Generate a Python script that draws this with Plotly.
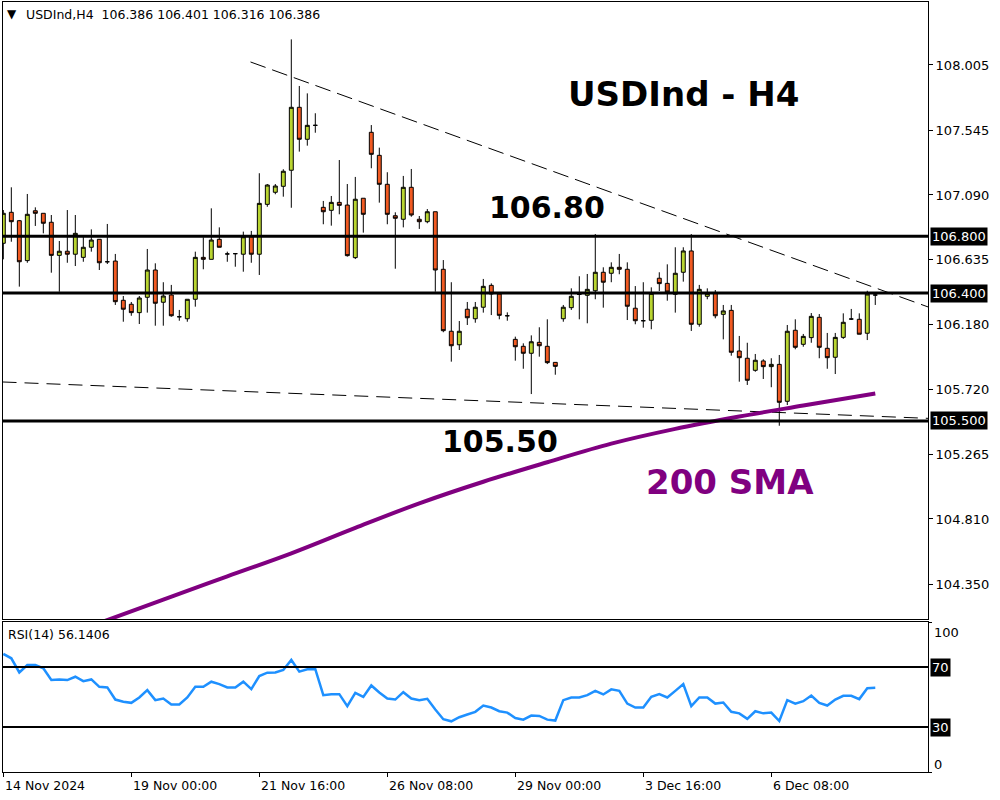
import plotly.graph_objects as go

# ---------------- data ----------------
tick_idx = [0, 16, 32, 48, 64, 80, 96]
tick_text = ["14 Nov 2024", "19 Nov 00:00", "21 Nov 16:00", "26 Nov 08:00",
             "29 Nov 00:00", "3 Dec 16:00", "6 Dec 08:00"]

open_ = [106.750, 106.968, 106.909, 106.628, 106.979, 106.961, 106.898, 106.665, 106.694, 106.673,
         106.651, 106.722, 106.778, 106.620, 106.625, 106.349, 106.321, 106.262, 106.370, 106.562,
         106.335, 106.386, 106.233, 106.219, 106.356, 106.651, 106.637, 106.778, 106.675, 106.677,
         106.673, 106.796, 106.673, 107.024, 107.109, 107.151, 107.264, 107.707, 107.482, 107.580,
         107.003, 106.982, 107.038, 107.019, 106.649, 107.067, 107.531, 107.369, 107.165, 106.944,
         106.919, 107.144, 106.919, 106.902, 106.972, 106.567, 106.131, 106.036, 106.286, 106.219,
         106.300, 106.454, 106.393, 106.240, 106.074, 106.025, 105.976, 106.053, 106.025, 105.912,
         106.219, 106.297, 106.390, 106.384, 106.416, 106.546, 106.539, 106.581, 106.567, 106.293,
         106.205, 106.208, 106.504, 106.468, 106.391, 106.546, 106.696, 106.180, 106.377, 106.398,
         106.250, 106.278, 105.992, 105.941, 105.856, 105.922, 105.882, 105.898, 105.638, 106.138,
         106.039, 106.086, 106.229, 106.011, 105.948, 106.088, 106.217, 106.215, 106.117, 106.386]
high = [106.984, 107.144, 106.914, 107.097, 107.003, 106.961, 106.949, 106.766, 106.984, 106.949,
        106.796, 106.848, 106.778, 106.886, 106.675, 106.379, 106.337, 106.379, 106.710, 106.609,
        106.476, 106.457, 106.281, 106.356, 106.691, 106.792, 106.996, 106.862, 106.691, 106.677,
        106.832, 106.837, 107.243, 107.167, 107.167, 107.271, 108.185, 107.857, 107.805, 107.665,
        107.048, 107.083, 107.336, 107.167, 107.217, 107.067, 107.582, 107.423, 107.250, 106.968,
        107.224, 107.273, 106.942, 106.991, 106.972, 106.632, 106.476, 106.203, 106.337, 106.337,
        106.499, 106.468, 106.393, 106.264, 106.093, 106.046, 106.102, 106.159, 106.215, 105.912,
        106.316, 106.433, 106.518, 106.534, 106.815, 106.581, 106.616, 106.675, 106.616, 106.449,
        106.476, 106.440, 106.546, 106.602, 106.722, 106.722, 106.815, 106.457, 106.433, 106.421,
        106.316, 106.316, 106.098, 106.050, 105.971, 105.934, 105.941, 105.964, 106.175, 106.215,
        106.112, 106.259, 106.252, 106.119, 106.119, 106.257, 106.288, 106.257, 106.416, 106.401]
low = [106.637, 106.761, 106.445, 106.613, 106.872, 106.820, 106.543, 106.409, 106.613, 106.590,
       106.620, 106.691, 106.562, 106.604, 106.316, 106.198, 106.240, 106.182, 106.262, 106.170,
       106.170, 106.233, 106.205, 106.198, 106.304, 106.567, 106.637, 106.722, 106.620, 106.585,
       106.550, 106.613, 106.527, 107.007, 107.095, 107.078, 107.000, 107.395, 107.437, 107.528,
       106.884, 106.874, 106.954, 106.656, 106.639, 106.825, 107.278, 107.036, 106.884, 106.571,
       106.862, 106.937, 106.851, 106.891, 106.409, 106.124, 105.917, 105.999, 106.175, 106.191,
       106.262, 106.245, 106.215, 106.205, 105.924, 105.867, 105.689, 105.952, 105.900, 105.825,
       106.198, 106.281, 106.215, 106.187, 106.356, 106.297, 106.476, 106.532, 106.210, 106.180,
       106.156, 106.145, 106.414, 106.346, 106.262, 106.480, 106.133, 106.163, 106.356, 106.222,
       106.074, 105.959, 105.776, 105.753, 105.846, 105.795, 105.737, 105.466, 105.612, 106.004,
       106.022, 106.050, 105.941, 105.867, 105.830, 106.077, 106.210, 106.110, 106.069, 106.316]
close = [106.961, 106.902, 106.620, 106.954, 106.961, 106.891, 106.665, 106.694, 106.673, 106.820,
         106.722, 106.773, 106.613, 106.620, 106.339, 106.286, 106.262, 106.365, 106.562, 106.328,
         106.379, 106.240, 106.233, 106.356, 106.651, 106.637, 106.773, 106.722, 106.675, 106.677,
         106.796, 106.673, 107.031, 107.160, 107.153, 107.257, 107.707, 107.482, 107.580, 107.580,
         106.972, 107.038, 107.017, 106.663, 107.060, 106.954, 107.376, 107.165, 106.954, 106.926,
         107.144, 106.949, 106.902, 106.972, 106.562, 106.135, 106.029, 106.131, 106.226, 106.300,
         106.447, 106.393, 106.243, 106.240, 106.022, 105.976, 106.057, 106.029, 105.910, 105.884,
         106.300, 106.377, 106.390, 106.426, 106.546, 106.476, 106.581, 106.567, 106.307, 106.205,
         106.205, 106.398, 106.466, 106.407, 106.539, 106.696, 106.180, 106.426, 106.398, 106.240,
         106.274, 105.983, 105.945, 105.786, 105.927, 105.882, 105.898, 105.631, 106.131, 106.018,
         106.095, 106.236, 106.018, 105.945, 106.088, 106.194, 106.217, 106.110, 106.393, 106.386]

rsi = [78.7, 75.8, 66.4, 71.3, 71.3, 69.1, 61.3, 61.7, 61.3, 63.5,
       60.6, 61.7, 56.8, 56.4, 48.3, 46.8, 46.1, 49.7, 54.6, 47.9,
       49.0, 45.0, 45.0, 49.7, 56.8, 56.8, 60.2, 58.6, 56.4, 56.4,
       60.2, 55.3, 64.0, 66.2, 66.4, 68.0, 74.7, 66.9, 68.5, 68.5,
       51.2, 51.9, 51.9, 43.9, 52.8, 50.1, 57.7, 53.0, 49.0, 48.3,
       53.2, 49.0, 47.9, 48.8, 41.7, 35.2, 33.8, 36.5, 38.3, 40.1,
       44.3, 43.0, 40.5, 39.6, 36.0, 34.9, 37.6, 37.4, 34.9, 34.3,
       47.9, 49.7, 49.7, 51.2, 54.1, 51.7, 55.1, 54.1, 45.6, 43.0,
       43.0, 50.1, 51.9, 49.7, 54.1, 58.6, 43.9, 49.7, 49.7, 45.6,
       46.3, 40.1, 39.1, 35.4, 40.5, 39.1, 39.6, 34.0, 47.9, 45.6,
       47.2, 51.0, 46.1, 44.3, 48.3, 50.8, 50.8, 48.6, 55.9, 56.1]

sma_idx = [10, 20, 28, 36, 44, 52, 60, 68, 76, 84, 92, 100, 109]
sma_val = [104.037, 104.242, 104.406, 104.568, 104.747, 104.920, 105.072,
           105.209, 105.340, 105.444, 105.531, 105.608, 105.693]

trend_upper_idx = [30.9, 115.6]
trend_upper_val = [108.026, 106.302]
trend_lower_idx = [-0.1, 115.6]
trend_lower_val = [105.774, 105.518]

levels = [106.800, 106.400, 105.500]
price_ticks = [108.005, 107.545, 107.090, 106.635, 106.180, 105.720, 105.265, 104.810, 104.350]
rsi_levels = [70, 30]

# ---------------- styling ----------------
GREEN = "#B9D531"
RED = "#F15A22"
PURPLE = "#800080"
BLUE = "#1E90FF"
FONT = "DejaVu Sans"

W, H = 1000, 800
ML, MR, MT, MB = 3, 72, 2, 28
PW, PH = W - ML - MR, H - MT - MB


def px(x):
    return (x - ML) / PW


def py(y):
    return (H - MB - y) / PH


n = len(close)
idx = list(range(n))

fig = go.Figure()
fig.add_trace(go.Candlestick(
    x=idx, open=open_, high=high, low=low, close=close,
    increasing=dict(line=dict(color="black", width=1), fillcolor=GREEN),
    decreasing=dict(line=dict(color="black", width=1), fillcolor=RED),
    whiskerwidth=0, xaxis="x", yaxis="y", showlegend=False, hoverinfo="skip"))

fig.add_trace(go.Scatter(x=trend_upper_idx, y=trend_upper_val, mode="lines",
                         line=dict(color="black", width=1, dash="16px,7px"),
                         xaxis="x", yaxis="y", showlegend=False, hoverinfo="skip"))
fig.add_trace(go.Scatter(x=trend_lower_idx, y=trend_lower_val, mode="lines",
                         line=dict(color="black", width=1, dash="14px,8px"),
                         xaxis="x", yaxis="y", showlegend=False, hoverinfo="skip"))
fig.add_trace(go.Scatter(x=sma_idx, y=sma_val, mode="lines", line_shape="spline",
                         line=dict(color=PURPLE, width=4),
                         xaxis="x", yaxis="y", showlegend=False, hoverinfo="skip"))

fig.add_trace(go.Scatter(x=idx, y=rsi, mode="lines",
                         line=dict(color=BLUE, width=2.5),
                         xaxis="x2", yaxis="y2", showlegend=False, hoverinfo="skip"))

xr = [-0.04, 115.59]
main_dom = [py(619), 1.0]
rsi_dom = [0.0, py(622)]

fig.update_layout(
    width=W, height=H,
    margin=dict(l=ML, r=MR, t=MT, b=MB),
    paper_bgcolor="white", plot_bgcolor="white",
    font=dict(family=FONT, size=12, color="black"),
    boxgap=0.3,
    xaxis=dict(domain=[0, 1], range=xr, anchor="y", showgrid=False, zeroline=False,
               showticklabels=False, ticks="", showline=True, mirror=True,
               linecolor="black", linewidth=1, rangeslider=dict(visible=False)),
    yaxis=dict(domain=main_dom, range=[104.106, 108.448], side="right", anchor="x",
               showgrid=False, zeroline=False, tickvals=price_ticks,
               ticktext=[f"{v:.3f}" for v in price_ticks], ticks="outside",
               ticklen=4, tickcolor="black", tickfont=dict(size=13, family=FONT),
               showline=True, mirror=True, linecolor="black", linewidth=1),
    xaxis2=dict(domain=[0, 1], range=xr, anchor="y2", matches="x", showgrid=False,
                zeroline=False, tickvals=tick_idx, ticktext=[""] * len(tick_idx),
                ticks="outside", ticklen=4, tickcolor="black", showline=True,
                mirror=True, linecolor="black", linewidth=1),
    yaxis2=dict(domain=rsi_dom, range=[0, 100], side="right", anchor="x2",
                showgrid=False, zeroline=False, showticklabels=False,
                tickvals=[0, 100], ticks="outside", ticklen=3, tickcolor="black",
                showline=True, mirror=True, linecolor="black", linewidth=1),
)

shapes = []
for lv in levels:
    shapes.append(dict(type="line", xref="paper", yref="y", x0=0, x1=1, y0=lv, y1=lv,
                       line=dict(color="black", width=3)))
for lv in rsi_levels:
    shapes.append(dict(type="line", xref="paper", yref="y2", x0=0, x1=1, y0=lv, y1=lv,
                       line=dict(color="black", width=2)))
fig.update_layout(shapes=shapes)

ann = []
# level boxes on price axis
for lv in levels:
    ann.append(dict(xref="paper", yref="y", x=px(930), y=lv, xanchor="left", yanchor="middle",
                    text=f"{lv:.3f}", showarrow=False, bgcolor="black", borderpad=1,
                    font=dict(color="white", size=13, family=FONT)))
for lv in rsi_levels:
    ann.append(dict(xref="paper", yref="y2", x=px(930), y=lv, xanchor="left", yanchor="middle",
                    text=str(lv), showarrow=False, bgcolor="black", borderpad=1,
                    font=dict(color="white", size=13, family=FONT)))
ann.append(dict(xref="paper", yref="paper", x=px(932), y=py(632), xanchor="left",
                yanchor="middle", text="100", showarrow=False, font=dict(size=13)))
ann.append(dict(xref="paper", yref="paper", x=px(932), y=py(764), xanchor="left",
                yanchor="middle", text="0", showarrow=False, font=dict(size=13)))
# date labels
for ti, tt in zip(tick_idx, tick_text):
    ann.append(dict(xref="x2", yref="paper", x=max(ti, 0), y=py(786), xanchor="left",
                    yanchor="middle", text=tt, showarrow=False, font=dict(size=12.5)))
# header
ann.append(dict(xref="paper", yref="paper", x=px(5), y=py(14), xanchor="left", yanchor="middle",
                text="\u25BC", showarrow=False, font=dict(size=12)))
ann.append(dict(xref="paper", yref="paper", x=px(24), y=py(14), xanchor="left", yanchor="middle",
                text="USDInd,H4  106.386 106.401 106.316 106.386", showarrow=False,
                font=dict(size=12.5)))
ann.append(dict(xref="paper", yref="paper", x=px(6), y=py(634), xanchor="left", yanchor="middle",
                text="RSI(14) 56.1406", showarrow=False, font=dict(size=12.5)))
# big labels
ann.append(dict(xref="paper", yref="paper", x=px(683), y=py(94), xanchor="center",
                yanchor="middle", text="USDInd - H4", showarrow=False,
                font=dict(size=34, weight="bold", family=FONT)))
ann.append(dict(xref="paper", yref="paper", x=px(547), y=py(208), xanchor="center",
                yanchor="middle", text="106.80", showarrow=False,
                font=dict(size=30, weight="bold", family=FONT)))
ann.append(dict(xref="paper", yref="paper", x=px(500), y=py(441), xanchor="center",
                yanchor="middle", text="105.50", showarrow=False,
                font=dict(size=30, weight="bold", family=FONT)))
ann.append(dict(xref="paper", yref="paper", x=px(730), y=py(482), xanchor="center",
                yanchor="middle", text="200 SMA", showarrow=False,
                font=dict(size=34, weight="bold", family=FONT, color=PURPLE)))
fig.update_layout(annotations=ann)

fig.write_html("out.html", config={"displayModeBar": False},
               post_script="document.body.style.margin='0';")
